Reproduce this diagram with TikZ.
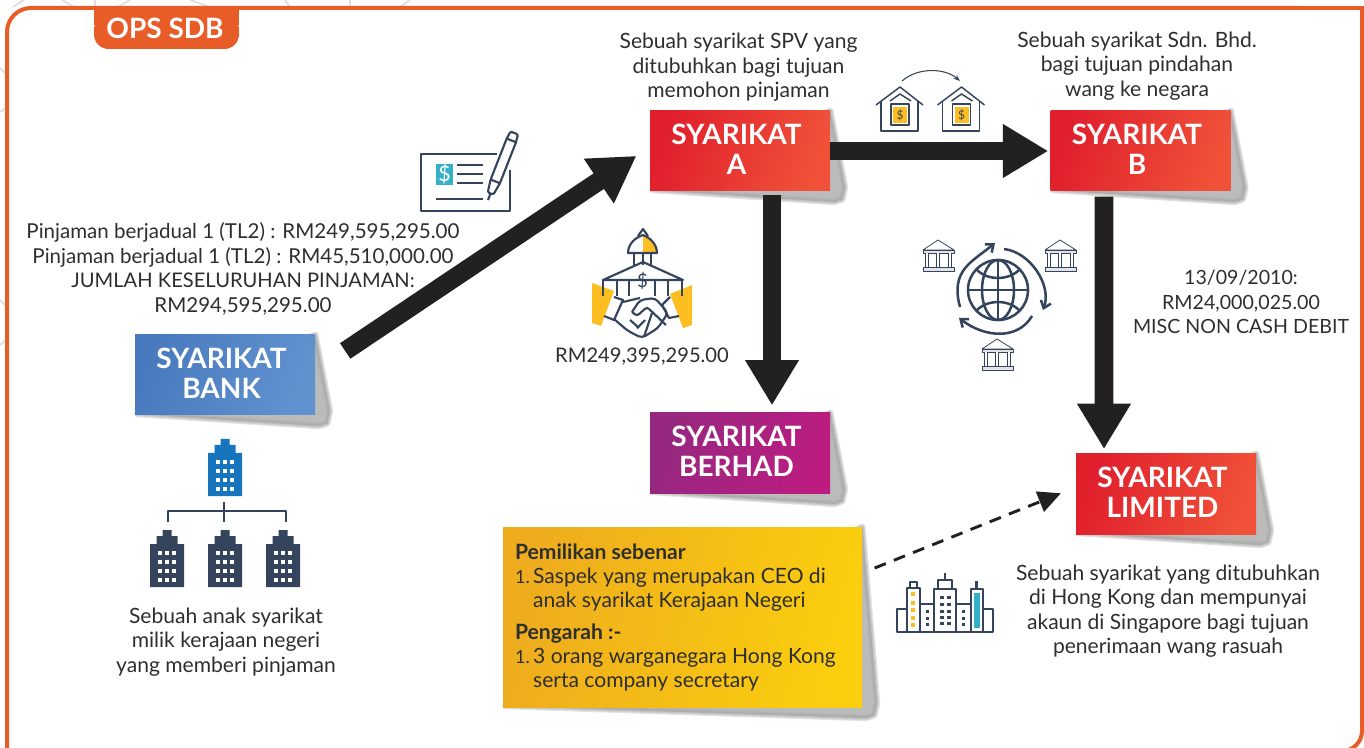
\documentclass[tikz,border=0pt]{standalone}
\usepackage{fontspec}
\setmainfont{Lato}
\usetikzlibrary{arrows.meta, positioning, backgrounds}

\definecolor{framecol}{HTML}{E85D27}
\definecolor{inkcol}{HTML}{2E2E2E}
\definecolor{iconcol}{HTML}{34445C}
\definecolor{goldcol}{HTML}{FDBE21}
\definecolor{tealcol}{HTML}{35B0C9}
\definecolor{towercol}{HTML}{1775BD}
\definecolor{blackarrow}{HTML}{22211F}
\definecolor{redfrom}{HTML}{E01F2D}
\definecolor{redto}{HTML}{F05138}
\definecolor{bluefrom}{HTML}{497ABE}
\definecolor{blueto}{HTML}{6092D0}
\definecolor{purplefrom}{HTML}{962880}
\definecolor{purpleto}{HTML}{BC1C80}
\definecolor{notefrom}{HTML}{EEAC1E}
\definecolor{noteto}{HTML}{FBCE0E}

\tikzset{
  company/.style={minimum width=135pt, minimum height=60pt, inner sep=0pt, align=center, text=white,
    font=\fontsize{21}{22.5}\selectfont\bfseries, left color=#1from, right color=#1to, shading angle=70},
  caption/.style={inner sep=0pt, align=center, text=inkcol, font=\fontsize{15.8}{18.4}\selectfont},
  figures/.style={caption, font=\fontsize{15.1}{18.4}\selectfont},
  fatarrow/.style={line width=14pt, draw=blackarrow, -{Triangle[length=34pt, width=38pt]}},
  iconline/.style={draw=iconcol, line width=1.6pt, line join=round},
  thinline/.style={draw=iconcol, line width=.6pt, line join=round},
  pics/tower/.style={code={
    \fill[#1] (-17,0) -- (-17,-43) -- (-10.5,-43) -- (-10.5,-51) -- (-4.5,-51) -- (-4.5,-57)
      -- (4.5,-57) -- (4.5,-51) -- (10.5,-51) -- (10.5,-43) -- (17,-43) -- (17,0) -- cycle;
    \foreach \wx in {-7,0,7}
      \foreach \wy in {-34,-25,-16,-7}
        \fill[white] (\wx-1.8,\wy-1.8) rectangle (\wx+1.8,\wy+1.8);
  }},
  pics/minibank/.style={code={
    \draw[thinline] (-15,10) -- (0,0) -- (16,10) -- cycle;
    \draw[thinline, fill=iconcol!15] (-15,10) rectangle (16,13);
    \foreach \cx in {-11,0,12}
      \draw[thinline, double=white, double distance=1.2pt, line width=.6pt] (\cx,13) -- (\cx,27);
    \draw[thinline, fill=iconcol!15] (-15,27) rectangle (16,31);
  }},
  pics/house/.style={code={
    \draw[iconline, line width=1.1pt] (-24,18) -- (0,0) -- (23,18);
    \draw[iconline, line width=1.1pt] (-19,14) -- (-19,44) -- (18,44) -- (18,14);
    \draw[iconline, line width=1.1pt] (-10,14) -- (0,7) -- (11,14);
    \draw[iconline, line width=1.1pt] (-9,17) rectangle (9,38);
    \fill[goldcol] (-7,20) rectangle (7,36);
    \node[inner sep=0pt, text=iconcol, font=\fontsize{9}{9}\selectfont] (#1) at (0,28) {\$};
  }}
}

\newcommand{\softshadow}[1]{%
  \foreach \softw in {5,3.5,2,.5}
    \draw[draw=black!35, fill=black!35, opacity=.3, line width=\softw pt, line join=round]
      (#1.north east) -- ([shift={(11pt,3pt)}]#1.south east) -- ([shift={(9pt,-6pt)}]#1.south east)
      -- ([shift={(3pt,-8pt)}]#1.south east) -- ([shift={(2pt,1pt)}]#1.south west) -- cycle;
}
\newcommand{\twolines}[2]{#1\hspace*{5.25pt}\\#2\hspace*{5.25pt}\rule[-3pt]{0pt}{3pt}}
\newcommand{\noteitem}{\makebox[13.5pt][l]{\fontsize{13.5}{18}\selectfont 1.}}

\begin{document}
\begin{tikzpicture}[x=.75pt, y=-.75pt]
  \useasboundingbox (0,0) rectangle (1364,748);

  % Companies
  \node[company=blue] (bank) at (225,375) {\twolines{SYARIKAT}{BANK}};
  \node[company=red] (a) at (740,151) {\twolines{SYARIKAT}{A}};
  \node[company=red] (b) at (1140.5,151) {\twolines{SYARIKAT}{B}};
  \node[company=purple] (berhad) at (740,453) {\twolines{SYARIKAT}{BERHAD}};
  \node[company=red] (limited) at (1166,494) {\twolines{SYARIKAT}{LIMITED}};

  % Beneficial owner note
  \node[minimum width=269.25pt, minimum height=135pt, inner sep=0pt,
    left color=notefrom, right color=noteto, shading angle=75] (note) at (682.5,617) {%
    \begin{minipage}{251pt}\fontsize{15.8}{18}\selectfont\color{inkcol}
      \textbf{Pemilikan sebenar}\\
      \noteitem Saspek yang merupakan CEO di\\
      \hspace*{13.5pt}anak syarikat Kerajaan Negeri\\[6pt]
      \textbf{Pengarah :-}\\
      \noteitem 3 orang warganegara Hong Kong\\
      \hspace*{13.5pt}serta company secretary
    \end{minipage}};

  % Frame and shadows
  \begin{pgfonlayer}{background}
    \foreach \hexa/\hexb in {{0,68}/{6,74}, {0,112}/{6,108}, {0,300}/{6,306}, {0,345}/{6,340}, {24,0}/{13,7},
      {62,0}/{74,7}, {95,0}/{95,7}, {130,0}/{118,7}, {190,0}/{210,7}, {285,0}/{290,7}, {350,0}/{350,7}, {410,0}/{400,7}}
      \draw[black!12, line width=1.5pt] (\hexa) -- (\hexb);
    \draw[framecol, line width=3pt, rounded corners=18pt] (7,770) -- (7,8) -- (1300,8);
    \draw[framecol, line width=3pt] (1290,8) -- (1362,8) -- (1362,700);
    \draw[framecol, line width=3pt, rounded corners=15pt] (1362,690) -- (1362,751) -- (1300,751);
    \foreach \boxname in {bank,a,b,berhad,limited,note} {
      \softshadow{\boxname}
    }
  \end{pgfonlayer}
  \fill[framecol, rounded corners=11pt] (94,15) -- (94,49) -- (239,49) -- (239,15) -- cycle;
  \fill[framecol] (94,7) rectangle (239,25);
  \node[inner sep=0pt, text=white, font=\fontsize{21}{21}\selectfont\bfseries] (tab) at (165,28) {OPS SDB};

  % Captions
  \node[caption] (capa) at (738.5,67.5) {Sebuah syarikat SPV yang\\ditubuhkan bagi tujuan\\memohon pinjaman};
  \node[caption] (capb) at (1137,66) {Sebuah syarikat Sdn. Bhd.\\bagi tujuan pindahan\\wang ke negara};
  \node[figures, font=\fontsize{15.4}{18.4}\selectfont] (loan) at (243,269) {Pinjaman berjadual 1 (TL2) : RM249,595,295.00\\Pinjaman berjadual 1 (TL2) : RM45,510,000.00\\\fontsize{15.1}{18.4}\selectfont JUMLAH KESELURUHAN PINJAMAN:\\RM294,595,295.00};
  \node[figures] (sum) at (642,357) {RM249,395,295.00};
  \node[figures, font=\fontsize{14.7}{18.4}\selectfont] (misc) at (1241,302) {13/09/2010:\\RM24,000,025.00\\MISC NON CASH DEBIT};
  \node[caption] (caplimited) at (1168,611) {Sebuah syarikat yang ditubuhkan\\di Hong Kong dan mempunyai\\akaun di Singapore bagi tujuan\\penerimaan wang rasuah};
  \node[caption] (capbank) at (226,642) {Sebuah anak syarikat\\milik kerajaan negeri\\yang memberi pinjaman};

  % Arrows
  \draw[fatarrow, shorten <=27pt, shorten >=12pt] ([yshift=3pt]bank.east) -- ([yshift=3pt]a.west);
  \draw[fatarrow, line width=13.5pt, shorten >=1.5pt] (a.east) -- (b.west);
  \draw[fatarrow, shorten <=3pt, shorten >=5.5pt] ([xshift=24pt]a.south) -- ([xshift=24pt]berhad.north);
  \draw[fatarrow, shorten <=4pt, shorten >=3.5pt] ([xshift=-27.4pt]b.south) -- ([xshift=-46.5pt]limited.north);
  \draw[blackarrow, line width=2.2pt, dash pattern=on 9pt off 6.5pt, -{Triangle[length=17pt, width=16pt]}, shorten <=10pt, shorten >=12pt]
    ([yshift=33pt]note.east) -- ([yshift=5pt]limited.west);

  % Cheque
  \draw[iconline] (497,154) -- (421,154) -- (421,211) -- (510,211) -- (510,170);
  \fill[tealcol] (436,164) rectangle (453,185);
  \node[inner sep=0pt, text=white, font=\fontsize{16}{16}\selectfont] (chequesign) at (444.5,174.5) {\$};
  \foreach \ly in {165,174,183}
    \draw[iconline] (457,\ly) -- (483,\ly);
  \draw[iconline] (436,199) -- (483,199);
  \begin{scope}[shift={(488,200)}, rotate=68.6]
    \draw[iconline] (0,0) -- (7,0);
    \draw[iconline, rounded corners=1pt] (7,-3) -- (20,-5) -- (64,-5) -- (72,-4) -- (72,4) -- (64,5) -- (20,5) -- (7,3) -- cycle;
    \draw[iconline] (20,-5) -- (20,5) (64,-5) -- (64,5);
  \end{scope}

  % Bank with handshake
  \fill[goldcol] (643,235) .. controls (651,238) and (657,245) .. (657,253) -- (643,253) -- cycle;
  \fill[goldcol] (592,283) -- (614,291) -- (601,326) -- (592,323) -- cycle;
  \fill[goldcol] (692,285) -- (670,294) -- (683,328) -- (692,325) -- cycle;
  \draw[iconline] (628,253) .. controls (628,245) and (634,238) .. (643,235) .. controls (651,238) and (657,245) .. (657,253) -- cycle;
  \draw[iconline] (638,236) -- (643,229) -- (648,236);
  \foreach \cx in {634,643,651}
    \draw[iconline] (\cx,253) -- (\cx,265);
  \draw[iconline] (603,280) -- (643,262) -- (683,280) -- cycle;
  \node[inner sep=0pt, text=iconcol, font=\fontsize{14}{14}\selectfont] (handsign) at (642.5,281) {\$};
  \foreach \cx in {603,617,629,655,668,682}
    \draw[iconline] (\cx,280) -- (\cx,296);
  \draw[iconline] (614,297) -- (623,300) -- (614,320) -- (604,316);
  \draw[iconline] (670,297) -- (662,305) -- (669,318) -- (679,316);
  \draw[iconline] (623,302) -- (640,298);
  \draw[iconline, rounded corners=3pt] (632,312) -- (640,300) -- (655,298) -- (668,313) -- (658,328) -- (642,338) -- (628,331) -- (614,319);
  \draw[iconline, rounded corners=2pt] (632,312) -- (637,316) -- (647,307) -- (666,325);
  \foreach \fx in {0,7,14}
    \draw[iconline] (638+\fx,327-\fx) -- (630+\fx,320+1.2*\fx);

  % Houses
  \pic at (900,87) {house=housea};
  \pic at (961.5,87) {house=houseb};
  \draw[iconcol, line width=.8pt, -{Stealth[length=5pt]}] (902,81) .. controls (918,67) and (945,68) .. (960,81);

  % Globe
  \begin{scope}[iconline, line width=1.9pt]
    \draw (998,290) circle (30);
    \draw (998,290) ellipse (16 and 30);
    \draw (968,290) -- (1028,290) (998,260) -- (998,320);
    \draw (976,269) .. controls (987,281) and (1009,281) .. (1020,269);
    \draw (976,311) .. controls (987,299) and (1009,299) .. (1020,311);
    \draw[-{Straight Barb[length=5pt, width=8pt]}] (960,307) .. controls (950,270) and (972,262) .. (995,243);
    \draw[-{Straight Barb[length=5pt, width=8pt]}] (1004,249) .. controls (1030,252) and (1052,285) .. (1043,310);
    \draw[-{Straight Barb[length=5pt, width=8pt]}] (1032,316) .. controls (1018,340) and (985,338) .. (959,318);
  \end{scope}
  \pic at (938,240) {minibank};
  \pic at (1060,240) {minibank};
  \pic at (997,339) {minibank};

  % Group of towers
  \pic at (225,496) {tower=towercol};
  \pic at (167,587) {tower=iconcol};
  \pic at (225,587) {tower=iconcol};
  \pic at (283,587) {tower=iconcol};
  \draw[iconline, line width=2pt] (224,502) -- (224,522) (168,522) -- (168,511) -- (286,511) -- (286,522);

  % City
  \begin{scope}[iconline]
    \draw (897,632) rectangle (993,609);
    \draw[fill=white] (907,632) rectangle (920,588);
    \draw (910,588) rectangle (917,582);
    \draw[fill=white] (920,632) rectangle (934,604);
    \draw[fill=white] (956,632) rectangle (971,604);
    \draw[fill=white] (934,632) rectangle (956,589);
    \draw (938,589) rectangle (952,580) (945,580) -- (945,573);
    \draw[fill=white] (971,632) rectangle (983,589);
    \draw (976.5,589) -- (976.5,581);
  \end{scope}
  \fill[tealcol] (974,593) rectangle (980,628);
  \foreach \dy in {594,603,610,618,625}
    \fill[goldcol] (911,\dy-2) rectangle (915,\dy+2);
  \foreach \dy in {597,604,611,617,623} {
    \fill[iconcol] (940,\dy-1.5) rectangle (943.5,\dy+1.5);
    \fill[iconcol] (947,\dy-1.5) rectangle (950.5,\dy+1.5);
  }
  \foreach \dy in {611,618,624} {
    \fill[iconcol] (925.5,\dy-1.5) rectangle (929,\dy+1.5);
    \fill[iconcol] (961.5,\dy-1.5) rectangle (965,\dy+1.5);
  }
\end{tikzpicture}
\end{document}
